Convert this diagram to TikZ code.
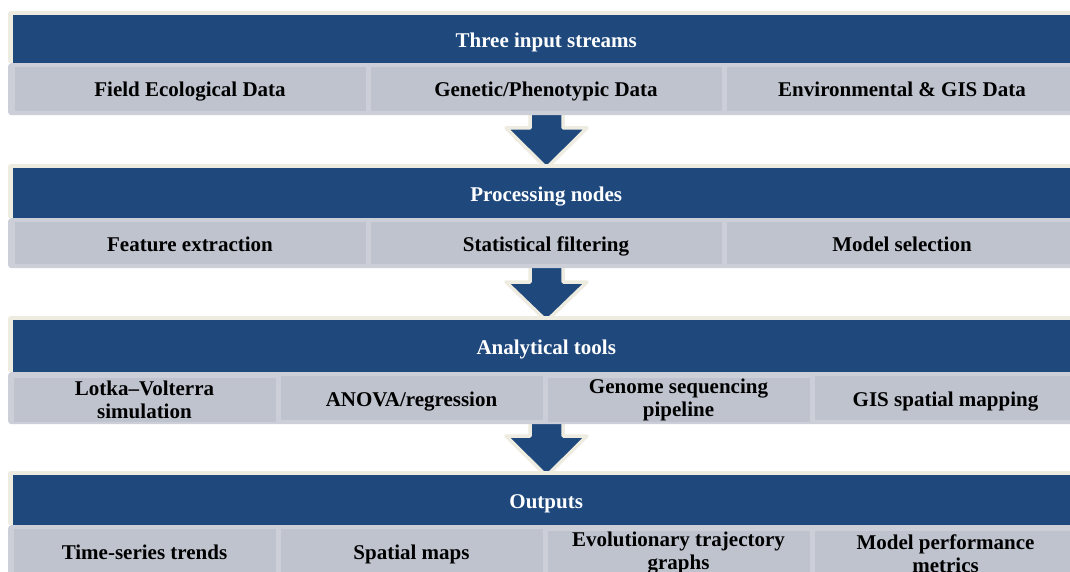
\documentclass[tikz,border=0pt]{standalone}
\usepackage{fontspec}
\setmainfont{Liberation Serif}
\usetikzlibrary{calc}
\definecolor{hdr}{RGB}{31,73,125}
\definecolor{cream}{RGB}{238,236,225}
\definecolor{cellfill}{RGB}{190,195,206}
\definecolor{cellrim}{RGB}{204,207,216}
\begin{document}
\begin{tikzpicture}[x=1pt,y=-1pt,
  txt/.style={font=\fontsize{21}{23}\selectfont\bfseries, align=center, text=black, inner sep=0pt},
  oneline/.style={text height=20pt, text depth=4pt},
  creambox/.style={fill=cream, draw=none, rounded corners=2pt, anchor=north west, inner sep=0pt},
  headbox/.style={txt, oneline, fill=hdr, text=white, anchor=north west, minimum width=1066pt},
  rowbox/.style={fill=cellrim, draw=none, rounded corners=3pt, anchor=north west, inner sep=0pt, minimum width=1077pt},
  cellthree/.style={txt, fill=cellfill, minimum width=351pt},
  cellfour/.style={txt, fill=cellfill, minimum width=262pt},
  blockarrow/.style={fill=hdr, draw=cream, line width=3.5pt, line join=round}
]
\useasboundingbox (0,0) rectangle (1070,572);
\clip (0,0) rectangle (1070,572);
\fill[white] (0,0) rectangle (1070,572);

% ---------- arrows (drawn first, panels cover their ends) ----------
\draw[blockarrow] (530,113) -- (530,128) -- (506,128) -- (546.5,168) -- (587,128) -- (563,128) -- (563,113);
\draw[blockarrow] (530,266) -- (530,282) -- (506,282) -- (546.5,321) -- (587,282) -- (563,282) -- (563,266);
\draw[blockarrow] (530,422) -- (530,436) -- (506,436) -- (546.5,476) -- (587,436) -- (563,436) -- (563,422);

% ---------- panel 1 ----------
\node[creambox, minimum width=1080pt, minimum height=52pt] (k1) at (8,11) {};
\node[headbox, minimum height=48pt] (h1) at (13,15) {Three input streams};
\node[rowbox, minimum height=52pt] (r1) at (8,63) {};
\node[cellthree, oneline, minimum height=44pt] (c11) at (190,89) {Field Ecological Data};
\node[cellthree, oneline, minimum height=44pt] (c12) at (546,89) {Genetic/Phenotypic Data};
\node[cellthree, oneline, minimum height=44pt] (c13) at (902,89) {Environmental \& GIS Data};

% ---------- panel 2 ----------
\node[creambox, minimum width=1080pt, minimum height=54pt] (k2) at (8,164) {};
\node[headbox, minimum height=50pt] (h2) at (13,168) {Processing nodes};
\node[rowbox, minimum height=50pt] (r2) at (8,218) {};
\node[cellthree, oneline, minimum height=42pt] (c21) at (190,243) {Feature extraction};
\node[cellthree, oneline, minimum height=42pt] (c22) at (546,243) {Statistical filtering};
\node[cellthree, oneline, minimum height=42pt] (c23) at (902,243) {Model selection};

% ---------- panel 3 ----------
\node[creambox, minimum width=1080pt, minimum height=56pt] (k3) at (8,316) {};
\node[headbox, minimum height=52pt] (h3) at (13,320) {Analytical tools};
\node[rowbox, minimum height=52pt] (r3) at (8,372) {};
\node[cellfour, minimum height=44pt] (c31) at (144.5,399.5) {Lotka--Volterra\\simulation};
\node[cellfour, oneline, minimum height=44pt] (c32) at (411.5,398) {ANOVA/regression};
\node[cellfour, minimum height=44pt] (c33) at (678.5,399.5) {Genome sequencing\\pipeline};
\node[cellfour, oneline, minimum height=44pt] (c34) at (945.5,398) {GIS spatial mapping};

% ---------- panel 4 ----------
\node[creambox, minimum width=1080pt, minimum height=54pt] (k4) at (8,471) {};
\node[headbox, minimum height=50pt] (h4) at (13,475) {Outputs};
\node[rowbox, minimum height=54pt] (r4) at (8,525) {};
\node[cellfour, oneline, minimum height=46pt] (c41) at (144.5,551.5) {Time-series trends};
\node[cellfour, oneline, minimum height=46pt] (c42) at (411.5,551.5) {Spatial maps};
\node[cellfour, minimum height=46pt] (c43) at (678.5,553.5) {Evolutionary trajectory\\graphs};
\node[cellfour, minimum height=46pt] (c44) at (945.5,553.5) {Model performance\\metrics};
\end{tikzpicture}
\end{document}
